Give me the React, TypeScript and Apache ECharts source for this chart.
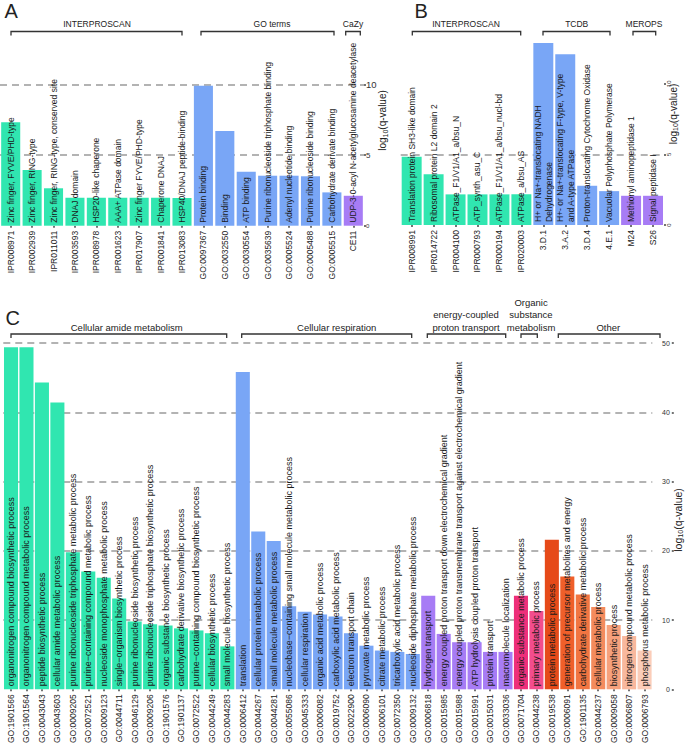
import React, { useEffect, useRef } from 'react';
import * as echarts from 'echarts';

const FONT = '"Liberation Sans", Arial, Helvetica, sans-serif';

// ---------- Panel A ----------
const aIds = ['IPR008971', 'IPR002939', 'IPR011011', 'IPR003593', 'IPR008978', 'IPR001623', 'IPR017907', 'IPR001841', 'IPR013083',
  'GO:0097367', 'GO:0032550', 'GO:0030554', 'GO:0035639', 'GO:0005524', 'GO:0005488', 'GO:0005515', 'CE11'];
const aTerms = ['Zinc finger, FYVE/PHD-type', 'Zinc finger, RING-type', 'Zinc finger, RING-type, conserved site', 'DNAJ domain',
  'HSP20-like chaperone', 'AAA+ ATPase domain', 'Zinc finger FYVE/PHD-type', 'Chaperone DNAJ', 'HSP40/DNAJ peptide-binding',
  'Protein binding', 'Binding', 'ATP binding', 'Purine ribonucleoside triphosphate binding', 'Adenyl nucleotide binding',
  'Purine ribonucleoside binding', 'Carbohydrate derivate binding', 'UDP-3-0-acyl N-acetylglucosamine deacetylase'];
const aValues = [7.32, 3.94, 2.65, 1.98, 1.98, 1.98, 1.98, 1.98, 1.96, 9.91, 6.7, 3.82, 3.54, 3.54, 3.5, 2.36, 2.12];
const aGroups = [0, 0, 0, 0, 0, 0, 0, 0, 0, 1, 1, 1, 1, 1, 1, 1, 2];
const aGroupNames = ['INTERPROSCAN', 'GO terms', 'CaZy'];

// ---------- Panel B ----------
const bIds = ['IPR008991', 'IPR014722', 'IPR004100', 'IPR000793', 'IPR000194', 'IPR020003', '3.D.1', '3.A.2', '3.D.4', '4.E.1', 'M24', 'S26'];
const bTerms = ['Translation protein SH3-like domain', 'Ribosomal protein L2 domain 2', 'ATPase_F1/V1/A1_a/bsu_N', 'ATP_synth_asu_C',
  'ATPase_F1/V1/A1_a/bsu_nucl-bd', 'ATPase_a/bsu_AS', 'H+ or Na+-translocating NADH\nDehydrogenase',
  'H+- or Na+-translocating F-type, V-type\nand A-type ATPase', 'Proton-translocating Cytochrome Oxidase',
  'Vacuolar Polyphosphate Polymerase', 'Methionyl aminopeptidase 1', 'Signal peptidase I'];
const bValues = [4.83, 3.6, 2.17, 2.17, 2.17, 2.17, 12.9, 12.1, 2.78, 2.4, 2.07, 2.07];
const bGroups = [0, 0, 0, 0, 0, 0, 1, 1, 1, 1, 2, 2];
const bGroupNames = ['INTERPROSCAN', 'TCDB', 'MEROPS'];

// ---------- Panel C ----------
const cIds = ['GO:1901566', 'GO:1901564', 'GO:0043043', 'GO:0043603', 'GO:0009205', 'GO:0072521', 'GO:0009123', 'GO:0044711',
  'GO:0046129', 'GO:0009206', 'GO:1901576', 'GO:1901137', 'GO:0072522', 'GO:0044249', 'GO:0044283',
  'GO:0006412', 'GO:0044267', 'GO:0044281', 'GO:0055086', 'GO:0045333', 'GO:0006082', 'GO:0019752', 'GO:0022900',
  'GO:0006090', 'GO:0006101', 'GO:0072350', 'GO:0009132',
  'GO:0006818', 'GO:0015985', 'GO:0015988', 'GO:0015991', 'GO:0015031', 'GO:0033036',
  'GO:0071704', 'GO:0044238',
  'GO:0019538', 'GO:0006091', 'GO:1901135', 'GO:0044237', 'GO:0009058', 'GO:0006807', 'GO:0006793'];
const cTerms = ['organonitrogen compound biosynthetic process', 'organonitrogen compound metabolic process',
  'peptide biosynthetic process', 'cellular amide metabolic process', 'purine ribonucleoside triphosphate metabolic process',
  'purine\u2212containing compound metabolic process', 'nucleoside monophosphate metabolic process',
  'single\u2212organism biosynthetic process', 'purine ribonucleoside biosynthetic process',
  'purine ribonucleoside triphosphate biosynthetic process', 'organic substance biosynthetic process',
  'carbohydrate derivative biosynthetic process', 'purine\u2212containing compound biosynthetic process',
  'cellular biosynthetic process', 'small molecule biosynthetic process',
  'translation', 'cellular protein metabolic process', 'small molecule metabolic process',
  'nucleobase\u2212containing small molecule metabolic process', 'cellular respiration', 'organic acid metabolic process',
  'carboxylic acid metabolic process', 'electron transport chain', 'pyruvate metabolic process', 'citrate metabolic process',
  'tricarboxylic acid metabolic process', 'nucleoside diphosphate metabolic process',
  'hydrogen transport', 'energy coupled proton transport down electrochemical gradient',
  'energy coupled proton transmembrane transport against electrochemical gradient',
  'ATP hydrolysis coupled proton transport', 'protein transport', 'macromolecule localization',
  'organic substance metabolic process', 'primary metabolic process',
  'protein metabolic process', 'generation of precursor metabolites and energy', 'carbohydrate derivative metabolic process',
  'cellular metabolic process', 'biosynthetic process', 'nitrogen compound metabolic process', 'phosphorus metabolic process'];
const cValues = [49.4, 49.4, 44.3, 41.4, 19.8, 17.0, 16.1, 13.1, 9.8, 9.4, 9.2, 8.8, 8.5, 8.1, 6.2,
  45.8, 22.8, 21.4, 12.0, 11.2, 10.8, 10.5, 8.1, 6.3, 5.6, 5.4, 5.1,
  13.5, 8.0, 6.8, 6.8, 5.4, 5.4,
  13.5, 11.3,
  21.6, 16.3, 13.7, 11.9, 9.3, 7.7, 5.6];
const cGroups = [0, 0, 0, 0, 0, 0, 0, 0, 0, 0, 0, 0, 0, 0, 0,
  1, 1, 1, 1, 1, 1, 1, 1, 1, 1, 1, 1,
  2, 2, 2, 2, 2, 2,
  3, 3,
  4, 4, 4, 4, 4, 4, 4];
const cGroupNames = ['Cellular amide metabolism', 'Cellular respiration', 'energy-coupled\nproton transport',
  'Organic\nsubstance\nmetabolism', 'Other'];

// ---------- styles ----------
const GREEN = '#30e6b0';
const BLUE = '#79a6f6';
const PURPLE = '#a77cf5';
const abPalette = [GREEN, BLUE, PURPLE];
const pinkShades = ['#ee2f7a', '#f24d8d'];
const otherShades = ['#e64a19', '#ef5f2a', '#f17541', '#f48b5d', '#f6a17c', '#f8b89d', '#fbcdb9'];

function colorC(i: number): string {
  const g = cGroups[i];
  if (g === 0) return GREEN;
  if (g === 1) return BLUE;
  if (g === 2) return PURPLE;
  const first = cGroups.indexOf(g);
  if (g === 3) return pinkShades[i - first];
  return otherShades[i - first];
}

function barSeries(idx: number, values: number[], terms: string[], colorFn: (i: number) => string, fontSize: number, gap: string) {
  return {
    type: 'bar',
    xAxisIndex: idx,
    yAxisIndex: idx,
    barCategoryGap: gap,
    silent: true,
    data: values.map((v, i) => ({ value: v, itemStyle: { color: colorFn(i) } })),
    label: {
      show: true,
      position: 'insideBottom',
      rotate: 90,
      align: 'left',
      verticalAlign: 'middle',
      distance: 3,
      fontSize,
      lineHeight: fontSize + 2,
      fontFamily: FONT,
      color: '#1a1a1a',
      formatter: (p: any) => terms[p.dataIndex],
    },
  };
}

function catAxis(idx: number, ids: string[], fontSize: number) {
  return {
    type: 'category',
    gridIndex: idx,
    data: ids,
    axisLine: { show: false },
    axisTick: { show: true, alignWithLabel: true, length: 2, lineStyle: { color: '#444', width: 1.5 } },
    axisLabel: { interval: 0, rotate: 90, fontSize, fontFamily: FONT, color: '#222', margin: 5 },
  };
}

const dashed = { type: [7, 5], color: '#9a9a9a', width: 1.5 };

function bracket(x1: number, x2: number, y: number) {
  return {
    type: 'polyline',
    shape: { points: [[x1, y + 4], [x1, y], [x2, y], [x2, y + 4]] },
    style: { stroke: '#333', lineWidth: 1.3, fill: null },
  };
}

function txt(text: string, x: number, y: number, fontSize: number, va: string = 'middle', align: string = 'center') {
  return {
    type: 'text',
    x,
    y,
    style: { text, fontSize, fontFamily: FONT, fill: '#222', align, verticalAlign: va, lineHeight: fontSize * 1.3 },
  };
}

function axisTitle(x: number, y: number, size: number) {
  return {
    type: 'text',
    x,
    y,
    rotation: Math.PI / 2,
    style: {
      text: '{n|log}{s|10}{n|(q-value)}',
      align: 'center',
      verticalAlign: 'middle',
      fill: '#222',
      fontFamily: FONT,
      rich: {
        n: { fontSize: size, lineHeight: size + 2, fontFamily: FONT, fill: '#222' },
        s: { fontSize: size * 0.7, lineHeight: 6, verticalAlign: 'bottom', fontFamily: FONT, fill: '#222' },
      },
    },
  };
}

export default function App() {
  const ref = useRef<HTMLDivElement>(null);

  useEffect(() => {
    if (!ref.current) return;
    const chart = echarts.init(ref.current, undefined, { renderer: 'svg' });

    const option: any = {
      animation: false,
      backgroundColor: '#ffffff',
      textStyle: { fontFamily: FONT },
      grid: [
        { left: 0, top: 84.5, width: 364, height: 141.2 },
        { left: 400.7, top: 13.3, width: 263.3, height: 211.7 },
        { left: 3.3, top: 343, width: 649, height: 354 },
      ],
      xAxis: [catAxis(0, aIds, 8.5), catAxis(1, bIds, 8.5), catAxis(2, cIds, 8.5)],
      yAxis: [
        {
          type: 'value', gridIndex: 0, position: 'right', min: 0, max: 10, interval: 5,
          axisLine: { show: false },
          axisTick: { show: true, length: 2, lineStyle: { color: '#444', width: 1.5 } },
          axisLabel: {
            margin: 2, color: '#333', fontFamily: FONT,
            formatter: (v: number) => (v === 10 ? '{l|10}' : v === 5 ? '{m|5}' : '{s|0}'),
            rich: {
              l: { fontSize: 9.5, fontFamily: FONT, color: '#333' },
              m: { fontSize: 8, fontFamily: FONT, color: '#333' },
              s: { fontSize: 6, fontFamily: FONT, color: '#333' },
            },
          },
          splitLine: { show: true, showMinLine: false, lineStyle: dashed },
        },
        {
          type: 'value', gridIndex: 1, position: 'right', min: 0, max: 15, interval: 5,
          axisLine: { show: false },
          axisTick: { show: true, length: 2, customValues: [0, 5, 10], lineStyle: { color: '#444', width: 1.5 } },
          axisLabel: { margin: 2, rotate: 90, fontSize: 6, color: '#333', fontFamily: FONT, showMaxLabel: false },
          splitLine: { show: true, showMinLine: false, showMaxLine: false, lineStyle: dashed },
        },
        {
          type: 'value', gridIndex: 2, position: 'right', offset: 19.5, min: 0, max: 50, interval: 10,
          axisLine: { show: false },
          axisTick: { show: true, length: 2, lineStyle: { color: '#444', width: 1.5 } },
          axisLabel: { inside: true, margin: 2, fontSize: 7, color: '#333', fontFamily: FONT },
          splitLine: { show: true, showMinLine: false, lineStyle: dashed },
        },
      ],
      series: [
        barSeries(0, aValues, aTerms, (i) => abPalette[aGroups[i]], 8.5, '11%'),
        barSeries(1, bValues, bTerms, (i) => abPalette[bGroups[i]], 8.5, '9%'),
        barSeries(2, cValues, cTerms, colorC, 9, '9%'),
      ],
      graphic: [
        // panel letters
        txt('A', 4.5, 10.5, 20, 'middle', 'left'),
        txt('B', 414.5, 10.5, 20, 'middle', 'left'),
        txt('C', 5.5, 318, 20, 'middle', 'left'),
        // panel A brackets
        bracket(11, 182, 31.5), txt(aGroupNames[0], 97, 24, 8.5),
        bracket(201, 334, 31.5), txt(aGroupNames[1], 272, 24, 8.5),
        bracket(345.7, 360.3, 31.5), txt(aGroupNames[2], 353, 24, 8.5),
        // panel B brackets
        bracket(412.3, 520.7, 31.5), txt(bGroupNames[0], 466, 24, 8.5),
        bracket(543, 610, 31.5), txt(bGroupNames[1], 576.7, 24, 8.5),
        bracket(633, 655.7, 31.5), txt(bGroupNames[2], 644, 24, 8.5),
        // panel C brackets
        bracket(11, 226.7, 334), txt(cGroupNames[0], 126.7, 327, 9.5),
        bracket(241.7, 411.7, 334), txt(cGroupNames[1], 336.7, 327, 9.5),
        bracket(427.3, 505.7, 334),
        { type: 'text', x: 466, y: 333.2, style: { text: cGroupNames[2], fontSize: 9.5, fontFamily: FONT, fill: '#222', align: 'center', verticalAlign: 'bottom', lineHeight: 12.3 } },
        bracket(521, 537.3, 334),
        { type: 'text', x: 531, y: 333.2, style: { text: cGroupNames[3], fontSize: 9.5, fontFamily: FONT, fill: '#222', align: 'center', verticalAlign: 'bottom', lineHeight: 12.3 } },
        bracket(558.3, 660, 334), txt(cGroupNames[4], 608.3, 327, 9.5),
        // axis titles
        axisTitle(382.5, 120.5, 10),
        axisTitle(673, 114, 10),
        axisTitle(678, 520, 10.5),
      ],
    };

    chart.setOption(option);
    return () => chart.dispose();
  }, []);

  return (
    <div
      ref={ref}
      style={{ position: 'absolute', left: 0, top: 0, width: 685, height: 746, background: '#fff' }}
    />
  );
}
